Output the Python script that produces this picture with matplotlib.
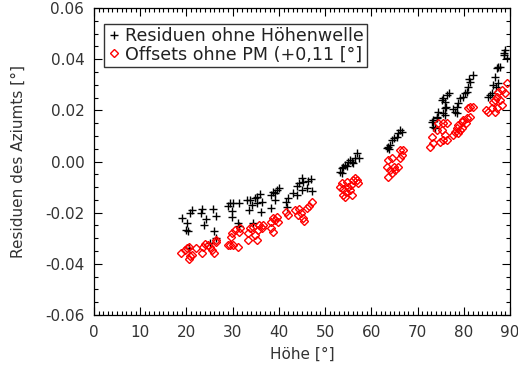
import matplotlib
matplotlib.use("Agg")
import matplotlib.pyplot as plt
import numpy as np
from matplotlib.ticker import MultipleLocator, FormatStrFormatter

# Residuen ohne Höhenwelle (schwarze Kreuze)
res_x = [19.0, 20.1, 19.8, 20.4, 20.8, 21.3, 23.3, 23.2, 24.2, 23.8, 25.7, 26.5, 26.0, 26.4, 25.1, 20.5,
         28.9, 29.4, 30.0, 31.4, 29.8, 29.8, 31.1, 31.4, 33.2, 33.8, 33.6, 34.1, 34.8, 35.2, 34.5, 35.9, 36.3, 36.1, 35.2,
         38.4, 38.8, 39.2, 39.5, 39.2, 40.1, 38.4, 41.5, 41.9, 43.1, 43.9, 44.4, 44.9, 45.3, 46.0, 46.4, 46.9, 47.1, 44.9, 43.9, 41.7,
         53.2, 53.6, 53.9, 54.3, 55.0, 55.4, 55.8, 56.1, 56.5, 57.0, 57.4, 53.6, 54.7,
         63.3, 63.7, 64.0, 64.4, 64.8, 65.8, 66.2, 66.6, 65.5, 63.9,
         73.4, 73.3, 73.8, 74.1, 74.5, 75.2, 75.6, 75.9, 76.3, 76.7, 76.2, 75.9, 75.6, 73.1, 74.1, 75.9,
         77.7, 78.1, 78.5, 78.8, 79.2, 79.8, 80.3, 80.7, 81.0, 81.4, 81.2, 82.1, 78.5,
         85.3, 85.7, 86.0, 86.4, 86.8, 87.1, 87.5, 87.8, 88.6, 88.9, 89.3, 88.7, 87.0, 87.5]
res_y = [-0.0222, -0.0240, -0.0268, -0.0272, -0.0200, -0.0190, -0.0187, -0.0203, -0.0226, -0.0249, -0.0187, -0.0213, -0.0272, -0.0300, -0.0320, -0.0339,
         -0.0174, -0.0164, -0.0161, -0.0164, -0.0194, -0.0216, -0.0240, -0.0252, -0.0151, -0.0151, -0.0190, -0.0170, -0.0144, -0.0138, -0.0242, -0.0128, -0.0157, -0.0196, -0.0164,
         -0.0131, -0.0118, -0.0124, -0.0112, -0.0151, -0.0105, -0.0183, -0.0157, -0.0144, -0.0122, -0.0096, -0.0085, -0.0066, -0.0079, -0.0105, -0.0075, -0.0070, -0.0114, -0.0112, -0.0131, -0.0177,
         -0.0040, -0.0027, -0.0020, -0.0014, -0.0001, 0.0006, -0.0001, -0.0007, 0.0013, 0.0032, 0.0013, -0.0046, -0.0018,
         0.0052, 0.0058, 0.0065, 0.0084, 0.0091, 0.0110, 0.0123, 0.0117, 0.0097, 0.0048,
         0.0162, 0.0136, 0.0130, 0.0169, 0.0195, 0.0241, 0.0247, 0.0234, 0.0260, 0.0269, 0.0214, 0.0182, 0.0189, 0.0156, 0.0175, 0.0208,
         0.0204, 0.0195, 0.0214, 0.0227, 0.0247, 0.0254, 0.0267, 0.0273, 0.0293, 0.0312, 0.0322, 0.0339, 0.0189,
         0.0254, 0.0260, 0.0267, 0.0299, 0.0332, 0.0365, 0.0369, 0.0371, 0.0424, 0.0436, 0.0404, 0.0417, 0.0293, 0.0306]

# Offsets ohne PM (+0,11) (rote Rauten)
off_x = [18.9, 19.7, 20.1, 20.5, 20.8, 20.5, 21.3, 22.0, 23.3, 23.6, 24.0, 24.6, 25.1, 25.6, 26.0, 26.4, 26.5,
         28.9, 29.4, 30.1, 31.1, 29.6, 29.9, 30.5, 31.4, 31.6, 33.3, 33.4, 33.8, 34.3, 34.8, 35.3, 35.5, 36.3, 36.5, 35.8,
         38.4, 38.8, 39.2, 38.4, 38.8, 39.5, 39.9, 41.5, 42.0, 43.5, 44.4, 44.8, 45.2, 45.4, 46.0, 46.5, 47.1, 44.2,
         53.2, 53.6, 53.9, 53.8, 54.3, 54.7, 55.0, 55.4, 55.8, 56.0, 56.5, 56.8, 57.2, 55.5, 54.5,
         63.7, 64.0, 63.3, 63.7, 64.4, 64.8, 65.1, 65.8, 66.2, 66.6, 66.9, 66.2, 64.4,
         72.7, 73.4, 73.1, 74.1, 74.5, 74.9, 75.6, 75.9, 75.6, 76.3, 75.2, 76.3,
         77.7, 78.1, 78.5, 78.8, 79.6, 79.9, 80.7, 81.4, 81.0, 81.4, 82.1, 79.2, 78.8, 79.6, 80.5,
         84.9, 85.3, 86.0, 86.4, 86.8, 87.1, 87.5, 88.2, 88.9, 89.3, 87.8, 88.2, 87.1, 86.8]
off_y = [-0.0359, -0.0346, -0.0340, -0.0336, -0.0370, -0.0383, -0.0366, -0.0340, -0.0359, -0.0333, -0.0324, -0.0327, -0.0333, -0.0344, -0.0359, -0.0314, -0.0305,
         -0.0327, -0.0327, -0.0327, -0.0333, -0.0297, -0.0281, -0.0268, -0.0275, -0.0261, -0.0307, -0.0281, -0.0261, -0.0255, -0.0288, -0.0307, -0.0268, -0.0261, -0.0249, -0.0249,
         -0.0236, -0.0222, -0.0229, -0.0261, -0.0275, -0.0216, -0.0236, -0.0196, -0.0209, -0.0190, -0.0187, -0.0203, -0.0222, -0.0232, -0.0183, -0.0174, -0.0157, -0.0209,
         -0.0099, -0.0085, -0.0109, -0.0131, -0.0138, -0.0079, -0.0099, -0.0112, -0.0131, -0.0072, -0.0066, -0.0072, -0.0085, -0.0092, -0.0118,
         -0.0059, -0.0033, -0.0020, 0.0006, 0.0013, -0.0020, -0.0033, -0.0020, 0.0013, 0.0025, 0.0045, 0.0045, -0.0046,
         0.0058, 0.0071, 0.0097, 0.0123, 0.0150, 0.0078, 0.0084, 0.0104, 0.0150, 0.0150, 0.0123, 0.0084,
         0.0104, 0.0117, 0.0130, 0.0143, 0.0156, 0.0162, 0.0169, 0.0175, 0.0208, 0.0214, 0.0212, 0.0123, 0.0110, 0.0130, 0.0150,
         0.0202, 0.0195, 0.0208, 0.0234, 0.0241, 0.0254, 0.0273, 0.0280, 0.0267, 0.0306, 0.0241, 0.0221, 0.0208, 0.0195]

plt.rcParams['font.family'] = ['DejaVu Sans']
fig = plt.figure(figsize=(5.18, 3.69), dpi=100)
ax = fig.add_axes([94 / 518, 54 / 369, 416 / 518, 307 / 369])

ax.plot(res_x, res_y, linestyle="none", marker="+", color="black", markersize=5.5, markeredgewidth=1,
        label="Residuen ohne Höhenwelle")
ax.plot(off_x, off_y, linestyle="none", marker="D", markerfacecolor="none", markeredgecolor="red",
        markersize=4.2, markeredgewidth=1, label="Offsets ohne PM (+0,11 [°]")

ax.set_xlim(0, 90)
ax.set_ylim(-0.06, 0.06)
ax.xaxis.set_major_locator(MultipleLocator(10))
ax.xaxis.set_minor_locator(MultipleLocator(1))
ax.yaxis.set_major_locator(MultipleLocator(0.02))
ax.yaxis.set_minor_locator(MultipleLocator(0.005))
ax.yaxis.set_major_formatter(FormatStrFormatter("%.2f"))
ax.tick_params(which="both", direction="in", top=True, right=True, labelsize=11, width=0.8,
               labelcolor="#333333")
ax.tick_params(which="major", length=6, pad=7)
ax.tick_params(which="minor", length=3)
for s in ax.spines.values():
    s.set_linewidth(0.9)

ax.set_xlabel("Höhe [°]", fontsize=11, labelpad=5, color="#333333")
ax.set_ylabel("Residuen des Aziumts [°]", fontsize=11, labelpad=14, color="#333333")

leg = ax.legend(loc="upper left", bbox_to_anchor=(0.024, 0.948), fontsize=12.6, frameon=True, fancybox=False,
                handlelength=0.7, handletextpad=0.3, borderpad=0.2, labelspacing=0.0, borderaxespad=0)
leg.get_frame().set_edgecolor("black")
leg.get_frame().set_linewidth(1)
for t in leg.get_texts():
    t.set_color("#222222")

fig.savefig("out.png", dpi=100)
